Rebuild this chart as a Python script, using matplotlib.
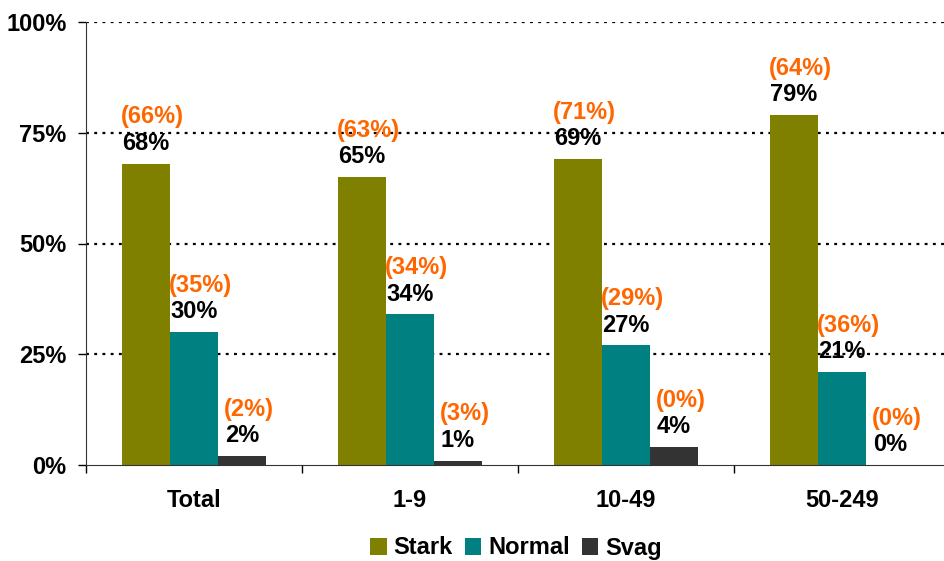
import numpy as np
import matplotlib
matplotlib.use('Agg')
import matplotlib.pyplot as plt
from matplotlib.patches import Patch

plt.rcParams['font.family'] = ['Liberation Sans', 'DejaVu Sans']
plt.rcParams['font.weight'] = 'bold'

kategorier = ['Total', '1-9', '10-49', '50-249']
serier = ['Stark', 'Normal', 'Svag']
farger = ['#808000', '#008080', '#333333']

# nuvarande värden (%)
stark = [68, 65, 69, 79]
normal = [30, 34, 27, 21]
svag = [2, 1, 4, 0]

# tidigare värden (%) i parentes
stark_tidigare = [66, 63, 71, 64]
normal_tidigare = [35, 34, 29, 36]
svag_tidigare = [2, 3, 0, 0]

varden = [stark, normal, svag]
tidigare = [stark_tidigare, normal_tidigare, svag_tidigare]

fs = 17

fig = plt.figure(figsize=(9.44, 5.61), dpi=100)
ax = fig.add_axes([86 / 944, 96 / 561, 864 / 944, 443 / 561])

x = np.arange(len(kategorier))
bredd = 0.222

for i, (namn, farg) in enumerate(zip(serier, farger)):
    pos = x + (i - 1) * bredd
    ax.bar(pos, varden[i], width=bredd, color=farg, zorder=2)
    for p, v, t in zip(pos, varden[i], tidigare[i]):
        ax.text(p, v + 4.6, f'{v}%', ha='center', va='center',
                fontsize=fs, fontweight='bold', color='black', zorder=3)
        ax.text(p + 0.03, v + 10.6, f'({t}%)', ha='center', va='center',
                fontsize=fs, fontweight='bold', color='#FF6600', zorder=3)

ax.set_xlim(-0.5, 3.5)
ax.set_ylim(0, 100)
ax.set_yticks([0, 25, 50, 75, 100])
ax.set_yticklabels(['0%', '25%', '50%', '75%', '100%'], fontsize=fs, fontweight='bold')
ax.set_xticks(x)
ax.set_xticklabels(kategorier, fontsize=fs, fontweight='bold')
ax.tick_params(axis='x', which='major', length=0, pad=17)
ax.set_xticks(np.arange(-0.5, 4.0, 1.0), minor=True)
ax.tick_params(axis='x', which='minor', length=6, width=1, direction='out')
ax.tick_params(axis='y', length=6, width=1, direction='out', pad=8)

for yv in [25, 50, 75, 100]:
    ax.axhline(yv, color='black', linestyle=(0, (1.3, 2.4)), linewidth=1.6, zorder=1)

ax.spines['top'].set_visible(False)
ax.spines['right'].set_visible(False)
ax.spines['left'].set_color('#333333')
ax.spines['bottom'].set_color('#333333')

handtag = [Patch(facecolor=f, edgecolor='none') for f in farger]
fig.legend(handtag, serier, loc='center', bbox_to_anchor=(516 / 944, 13 / 561),
           ncol=3, frameon=False, prop={'size': fs, 'weight': 'bold'},
           handlelength=0.7, handleheight=0.7, handletextpad=0.3,
           columnspacing=0.5, borderpad=0)

fig.savefig('out.png', dpi=100)
